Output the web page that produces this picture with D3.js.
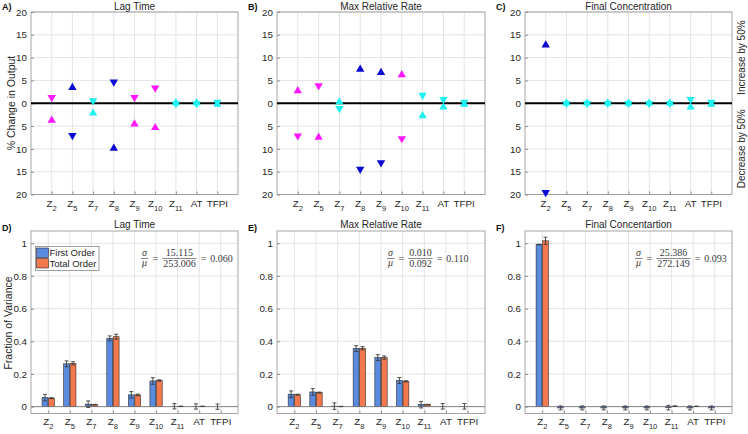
<!DOCTYPE html>
<html><head><meta charset="utf-8">
<script src="https://cdn.jsdelivr.net/npm/d3@7"></script>
<style>
body{margin:0;background:#fff;}
svg{display:block;font-family:"Liberation Sans",Arial,sans-serif;}
</style></head><body>
<svg id="c" width="748" height="434"></svg>
<script>
// ---------- DATA ----------
const categories = ["Z2","Z5","Z7","Z8","Z9","Z10","Z11","AT","TFPI"];
const topTicks = [-20,-15,-10,-5,0,5,10,15,20];
const botTicks = [0,0.2,0.4,0.6,0.8,1];

// Top row: % change in output for +50% (upper half) and -50% (lower half) perturbations
const lagIncrease    = [1.0, 3.7, 0.3, 4.4, 1.0, 3.1, 0.35, 0.35, 0];
const lagIncreaseDir = ["down","up","down","down","down","down","up","up","up"];
const lagDecrease    = [3.5, 7.3, 1.9, 9.6, 4.3, 5.1, 0.35, 0.35, 0];
const lagDecreaseDir = ["up","down","up","up","up","up","down","down","down"];
const lagLevel       = ["mid","high","low","high","mid","mid","low","low","low"];

const rateIncrease    = [3.0, 3.6, 0.5, 7.7, 7.0, 6.5, 1.5, 0.6, 0];
const rateIncreaseDir = ["up","down","up","up","up","up","down","down","up"];
const rateDecrease    = [7.4, 7.2, 1.4, 14.7, 13.3, 8.0, 2.5, 0.6, 0];
const rateDecreaseDir = ["down","up","down","down","down","down","up","up","down"];
const rateLevel       = ["mid","mid","low","high","high","mid","low","low","low"];

const concIncrease    = [13.0, 0.3, 0.3, 0.3, 0.3, 0.3, 0.3, 0.6, 0];
const concIncreaseDir = ["up","up","up","up","up","up","up","down","up"];
const concDecrease    = [19.8, 0.3, 0.3, 0.3, 0.3, 0.3, 0.3, 0.6, 0];
const concDecreaseDir = ["down","down","down","down","down","down","down","up","down"];
const concLevel       = ["high","low","low","low","low","low","low","low","low"];

// Bottom row: Sobol indices
const lagFirst     = [0.055,0.262,0.015,0.418,0.072,0.157,0.002,0.001,0.0];
const lagFirstErr  = [0.020,0.018,0.020,0.015,0.020,0.020,0.016,0.016,0.016];
const lagTotal     = [0.052,0.265,0.012,0.428,0.072,0.160,0.002,0.002,0.0];
const lagTotalErr  = [0.003,0.010,0.002,0.015,0.005,0.004,0.001,0.001,0];

const rateFirst    = [0.076,0.090,0.003,0.355,0.300,0.160,0.012,0.002,0.002];
const rateFirstErr = [0.020,0.020,0.020,0.018,0.018,0.018,0.020,0.017,0.017];
const rateTotal    = [0.073,0.086,0.001,0.357,0.300,0.155,0.012,0.0,0.0];
const rateTotalErr = [0.003,0.003,0.001,0.010,0.010,0.004,0.002,0,0];

const concFirst    = [0.992,-0.008,-0.008,-0.008,-0.008,-0.008,-0.006,-0.008,-0.008];
const concFirstErr = [0.002,0.012,0.012,0.012,0.012,0.012,0.014,0.012,0.012];
const concTotal    = [1.015,0,0,0,0,0,0.003,0.002,0];
const concTotalErr = [0.022,0,0,0,0,0,0.001,0.001,0];

const sigmaVals = ["15.115","0.010","25.386"];
const muVals    = ["253.006","0.092","272.149"];
const ratioVals = ["0.060","0.110","0.093"];
const seriesNames = ["First Order","Total Order"];

// ---------- LAYOUT / STYLE ----------
const svg = d3.select("#c");
const colX = [[31,238],[277,485],[525,732]];
const topY = [12,194.5], botY = [231,413.5];
const textColor = "#262626", boxColor = "#8f8f8f", gridColor = "#e4e4e4";
const levelColor = d3.scaleOrdinal().domain(["high","mid","low"]).range(["#0a0ad2","#ff18ff","#1ff0f0"]);
const barColor = d3.scaleOrdinal().domain(seriesNames).range(["#5b8be0","#f4784e"]);

function catLabel(g, name, x, y) {
  const m = /^([A-Za-z]+)(\d+)$/.exec(name);
  const t = g.append("text").attr("x", x).attr("y", y).attr("text-anchor","middle")
    .attr("font-size", 9.8).attr("fill", textColor);
  if (m) {
    t.append("tspan").text(m[1]);
    t.append("tspan").attr("font-size", 7.5).attr("dy", 3.5).text(m[2]);
  } else t.text(name);
}

function frame(g, x, y, x0, x1, y0, y1, yTicks, yFmt) {
  const grid = g.append("g");
  grid.selectAll("line.h").data(yTicks).join("line").attr("class","h")
    .attr("x1", x0).attr("x2", x1).attr("y1", d => y(d)).attr("y2", d => y(d))
    .attr("stroke", gridColor);
  grid.selectAll("line.v").data(categories).join("line").attr("class","v")
    .attr("x1", (d,i) => x(i+1)).attr("x2", (d,i) => x(i+1)).attr("y1", y0).attr("y2", y1)
    .attr("stroke", gridColor);
  g.append("rect").attr("x", x0).attr("y", y0).attr("width", x1-x0).attr("height", y1-y0)
    .attr("fill","none").attr("stroke", boxColor).attr("stroke-width", 0.8);
  const ya = d3.axisLeft(y).tickValues(yTicks).tickFormat(yFmt).tickSize(-3).tickPadding(4);
  g.append("g").attr("transform", `translate(${x0},0)`).call(ya).call(s => {
    s.select(".domain").remove();
    s.selectAll("text").attr("font-size", 9.8).attr("fill", textColor).attr("font-family", null);
    s.selectAll("line").attr("stroke", boxColor);
  });
  const xa = d3.axisBottom(x).tickValues(d3.range(1, categories.length+1)).tickFormat("").tickSize(-3);
  g.append("g").attr("transform", `translate(0,${y1})`).call(xa).call(s => {
    s.select(".domain").remove();
    s.selectAll("line").attr("stroke", boxColor);
  });
}

function triPath(dir) {
  const w = 4.2, h = 3.6;
  return dir === "up" ? `M0,${-h}L${w},${h}L${-w},${h}Z` : `M0,${h}L${w},${-h}L${-w},${-h}Z`;
}

function topPanel(i, letter, title, inc, incDir, dec, decDir, level, sideLabels) {
  const [x0,x1] = colX[i];
  const x = d3.scaleLinear().domain([0,10]).range([x0,x1]);
  const y = d3.scaleLinear().domain([-20,20]).range([topY[1], topY[0]]);
  const g = svg.append("g");
  frame(g, x, y, x0, x1, topY[0], topY[1], topTicks, d => Math.abs(d));
  g.append("line").attr("x1", x0).attr("x2", x1).attr("y1", y(0)).attr("y2", y(0))
    .attr("stroke","#000").attr("stroke-width", 2);
  const pts = [];
  categories.forEach((c, k) => {
    pts.push({k, v: inc[k], dir: incDir[k], lev: level[k]});
    pts.push({k, v: -dec[k], dir: decDir[k], lev: level[k]});
  });
  g.selectAll("path.m").data(pts).join("path").attr("class","m")
    .attr("transform", d => `translate(${x(d.k+1)},${y(d.v)})`)
    .attr("d", d => triPath(d.dir)).attr("fill", d => levelColor(d.lev));
  categories.forEach((c,k) => catLabel(g, c, x(k+1), 207));
  g.append("text").attr("x", (x0+x1)/2).attr("y", 10).attr("text-anchor","middle")
    .attr("font-size", 10).attr("fill", textColor).text(title);
  g.append("text").attr("x", x0-29).attr("y", 10).attr("font-size", 9).attr("font-weight","bold")
    .attr("fill", "#111").text(letter);
  if (sideLabels) {
    g.append("text").attr("transform", `translate(${x1+13},${y(10)}) rotate(-90)`)
      .attr("text-anchor","middle").attr("font-size", 10).attr("fill", textColor).text(sideLabels[0]);
    g.append("text").attr("transform", `translate(${x1+13},${y(-10)}) rotate(-90)`)
      .attr("text-anchor","middle").attr("font-size", 10).attr("fill", textColor).text(sideLabels[1]);
  }
}

function formula(g, fx, fy, s, m, r) {
  const col = "#3a3a3a";
  const f = g.append("g").attr("font-family", '"Liberation Serif","DejaVu Serif",serif')
    .attr("font-size", 10).attr("fill", col);
  f.append("text").attr("x", fx+3.5).attr("y", fy-2.5).attr("text-anchor","middle").attr("font-style","italic").text("σ");
  f.append("text").attr("x", fx+3.5).attr("y", fy+7.8).attr("text-anchor","middle").attr("font-style","italic").text("μ");
  f.append("line").attr("x1", fx).attr("x2", fx+7.5).attr("y1", fy).attr("y2", fy).attr("stroke", col).attr("stroke-width", 0.6);
  let cx = fx + 11.5;
  const e1 = f.append("text").attr("x", cx).attr("y", fy+3.3).text("=");
  cx += e1.node().getComputedTextLength() + 4;
  const num = f.append("text").attr("y", fy-2.5).attr("text-anchor","middle").text(s);
  const den = f.append("text").attr("y", fy+8.5).attr("text-anchor","middle").text(m);
  const w = Math.max(num.node().getComputedTextLength(), den.node().getComputedTextLength()) + 2;
  num.attr("x", cx + w/2); den.attr("x", cx + w/2);
  f.append("line").attr("x1", cx).attr("x2", cx+w).attr("y1", fy).attr("y2", fy).attr("stroke", col).attr("stroke-width", 0.6);
  cx += w + 4;
  const e2 = f.append("text").attr("x", cx).attr("y", fy+3.3).text("=");
  cx += e2.node().getComputedTextLength() + 4;
  f.append("text").attr("x", cx).attr("y", fy+3.3).text(r);
}

function botPanel(i, letter, title, first, firstErr, total, totalErr, legend) {
  const [x0,x1] = colX[i];
  const x = d3.scaleLinear().domain([0.2,9.8]).range([x0,x1]);
  const y = d3.scaleLinear().domain([-0.042,1.075]).range([botY[1], botY[0]]);
  const g = svg.append("g");
  frame(g, x, y, x0, x1, botY[0], botY[1], botTicks, d => d3.format("~g")(d));
  const bw = 0.27, off = 0.15;
  const bars = [];
  categories.forEach((c,k) => {
    bars.push({k, s: seriesNames[0], v: first[k], e: firstErr[k], dx: -off});
    bars.push({k, s: seriesNames[1], v: total[k], e: totalErr[k], dx: off});
  });
  const unit = x(1) - x(0);
  g.selectAll("rect.b").data(bars).join("rect").attr("class","b")
    .attr("x", d => x(d.k+1+d.dx) - bw*unit/2).attr("width", bw*unit)
    .attr("y", d => Math.min(y(d.v), y(0))).attr("height", d => Math.abs(y(d.v) - y(0)))
    .attr("fill", d => barColor(d.s)).attr("stroke", "#2a2a2a").attr("stroke-width", 0.6);
  g.append("line").attr("x1", x0).attr("x2", x1).attr("y1", y(0)).attr("y2", y(0))
    .attr("stroke", "#7a7a7a").attr("stroke-width", 0.9);
  const eb = bars.filter(d => d.e > 0);
  const cap = 2;
  const eg = g.selectAll("g.e").data(eb).join("g").attr("class","e").attr("stroke","#3c3c3c").attr("stroke-width",0.9);
  eg.append("line").attr("x1", d => x(d.k+1+d.dx)).attr("x2", d => x(d.k+1+d.dx))
    .attr("y1", d => y(d.v-d.e)).attr("y2", d => y(d.v+d.e));
  eg.append("line").attr("x1", d => x(d.k+1+d.dx)-cap).attr("x2", d => x(d.k+1+d.dx)+cap)
    .attr("y1", d => y(d.v-d.e)).attr("y2", d => y(d.v-d.e));
  eg.append("line").attr("x1", d => x(d.k+1+d.dx)-cap).attr("x2", d => x(d.k+1+d.dx)+cap)
    .attr("y1", d => y(d.v+d.e)).attr("y2", d => y(d.v+d.e));
  categories.forEach((c,k) => catLabel(g, c, x(k+1), 425));
  g.append("text").attr("x", (x0+x1)/2).attr("y", 228).attr("text-anchor","middle")
    .attr("font-size", 10).attr("fill", textColor).text(title);
  g.append("text").attr("x", x0-29).attr("y", 231).attr("font-size", 9).attr("font-weight","bold")
    .attr("fill", "#111").text(letter);
  formula(g, x0+110, 258.5, sigmaVals[i], muVals[i], ratioVals[i]);
  if (legend) {
    const lg = g.append("g");
    lg.append("rect").attr("x", x0+4.5).attr("y", 246.5).attr("width", 63.5).attr("height", 24)
      .attr("fill","#fff").attr("stroke","#8a8a8a").attr("stroke-width",0.8);
    seriesNames.forEach((s, j) => {
      lg.append("rect").attr("x", x0+5.5).attr("y", 248 + j*10.5).attr("width", 12).attr("height", 9.5)
        .attr("fill", barColor(s)).attr("stroke","#2a2a2a").attr("stroke-width",0.6);
      lg.append("text").attr("x", x0+18.5).attr("y", 256 + j*10.5).attr("font-size", 9.5)
        .attr("fill", textColor).text(s);
    });
  }
}

topPanel(0, "A)", "Lag Time", lagIncrease, lagIncreaseDir, lagDecrease, lagDecreaseDir, lagLevel, null);
topPanel(1, "B)", "Max Relative Rate", rateIncrease, rateIncreaseDir, rateDecrease, rateDecreaseDir, rateLevel, null);
topPanel(2, "C)", "Final Concentration", concIncrease, concIncreaseDir, concDecrease, concDecreaseDir, concLevel, ["Increase by 50%","Decrease by 50%"]);

botPanel(0, "D)", "Lag Time", lagFirst, lagFirstErr, lagTotal, lagTotalErr, true);
botPanel(1, "E)", "Max Relative Rate", rateFirst, rateFirstErr, rateTotal, rateTotalErr, false);
botPanel(2, "F)", "Final Concentartion", concFirst, concFirstErr, concTotal, concTotalErr, false);

svg.append("text").attr("transform", "translate(14.5,103) rotate(-90)").attr("text-anchor","middle")
  .attr("font-size", 10.5).attr("fill", textColor).text("% Change in Output");
svg.append("text").attr("transform", "translate(11.5,323) rotate(-90)").attr("text-anchor","middle")
  .attr("font-size", 10.5).attr("fill", textColor).text("Fraction of Variance");
</script>
</body></html>
